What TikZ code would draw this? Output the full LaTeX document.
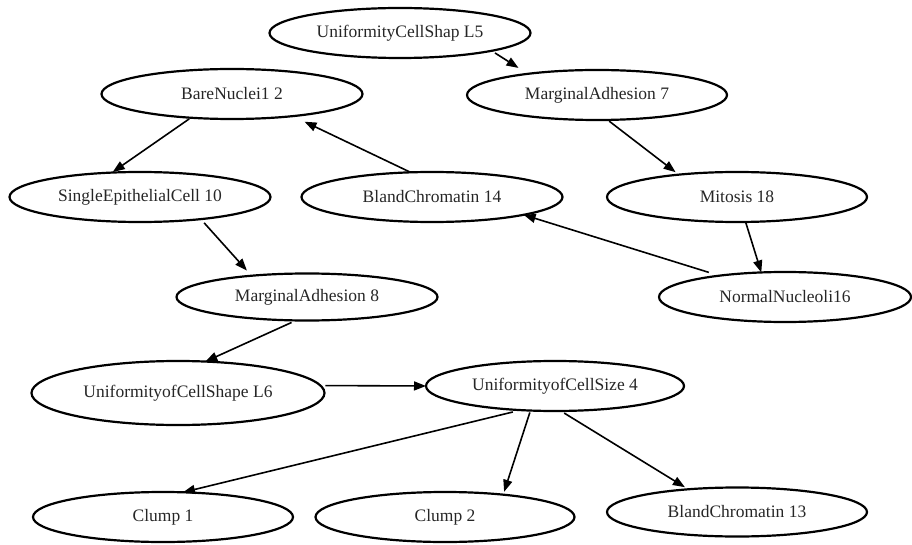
\documentclass[tikz,border=0pt]{standalone}
\usepackage{fontspec}
\setmainfont{Liberation Serif}
\usetikzlibrary{
    arrows.meta,
    shapes.geometric
}

\begin{document}
\begin{tikzpicture}[
    x=1pt, y=-1pt,
    ovalnode/.style = {ellipse, draw=black, line width=2.2pt, text=black!85,
                       minimum width=261pt, minimum height=50pt,
                       inner sep=0pt, outer sep=0pt,
                       font=\fontsize{17.5}{20}\selectfont},
    linkarrow/.style = {line width=1.6pt, -{Triangle[length=12pt, width=9pt]}}
]
    \useasboundingbox (0,0) rectangle (912,545);

    \node[ovalnode] (UCS5) at (400,33) {UniformityCellShap L5};
    \node[ovalnode] (BN2) at (232,94) {BareNuclei1 2};
    \node[ovalnode, minimum width=260pt] (MA7) at (597,95) {MarginalAdhesion 7};
    \node[ovalnode] (SEC10) at (140,197) {SingleEpithelialCell 10};
    \node[ovalnode] (BC14) at (432,197) {BlandChromatin 14};
    \node[ovalnode, minimum width=260pt] (MIT18) at (737,197) {Mitosis 18};
    \node[ovalnode, minimum height=47pt] (MA8) at (307,297) {MarginalAdhesion 8};
    \node[ovalnode, minimum width=252pt] (NN16) at (785,297) {NormalNucleoli16};
    \node[ovalnode, minimum width=293pt, minimum height=64pt] (UCS6) at (178,393) {UniformityofCellShape L6};
    \node[ovalnode, minimum width=258pt] (UCZ4) at (555,386) {UniformityofCellSize 4};
    \node[ovalnode, minimum width=260pt] (CL1) at (163,517) {Clump 1};
    \node[ovalnode, minimum width=259pt] (CL2) at (445,517) {Clump 2};
    \node[ovalnode, minimum width=260pt, minimum height=49pt] (BC13) at (737,512) {BlandChromatin 13};

    \draw[linkarrow, shorten <=4pt, shorten >=11pt] (UCS5.-11) -- (MA7.163);
    \draw[linkarrow, shorten <=2pt, shorten >=1pt] (BN2.-150) -- (SEC10.139);
    \draw[linkarrow, shorten <=1pt, shorten >=13pt] (BC14.131) -- (BN2.-20);
    \draw[linkarrow, shorten <=2pt, shorten >=4pt] (MA7.-67) -- (MIT18.159);
    \draw[linkarrow, shorten <=1pt] (MIT18.-71) -- (NN16.134);
    \draw[linkarrow, shorten <=11pt] (NN16.162) -- (BC14.-11);
    \draw[linkarrow, shorten <=5pt, shorten >=7pt] (SEC10.-20) -- (MA8.159);
    \draw[linkarrow, shorten <=5pt] (MA8.-115) -- (UCS6.49);
    \draw[linkarrow, shorten <=5pt] (UCS6.3) -- (UCZ4.west);
    \draw[linkarrow, shorten <=8pt] (UCZ4.-145) -- (CL1.51);
    \draw[linkarrow, shorten <=2pt, shorten >=3pt] (UCZ4.-135) -- (CL2.21);
    \draw[linkarrow, shorten <=4pt, shorten >=4pt] (UCZ4.-77) -- (BC13.155);

\end{tikzpicture}
\end{document}
